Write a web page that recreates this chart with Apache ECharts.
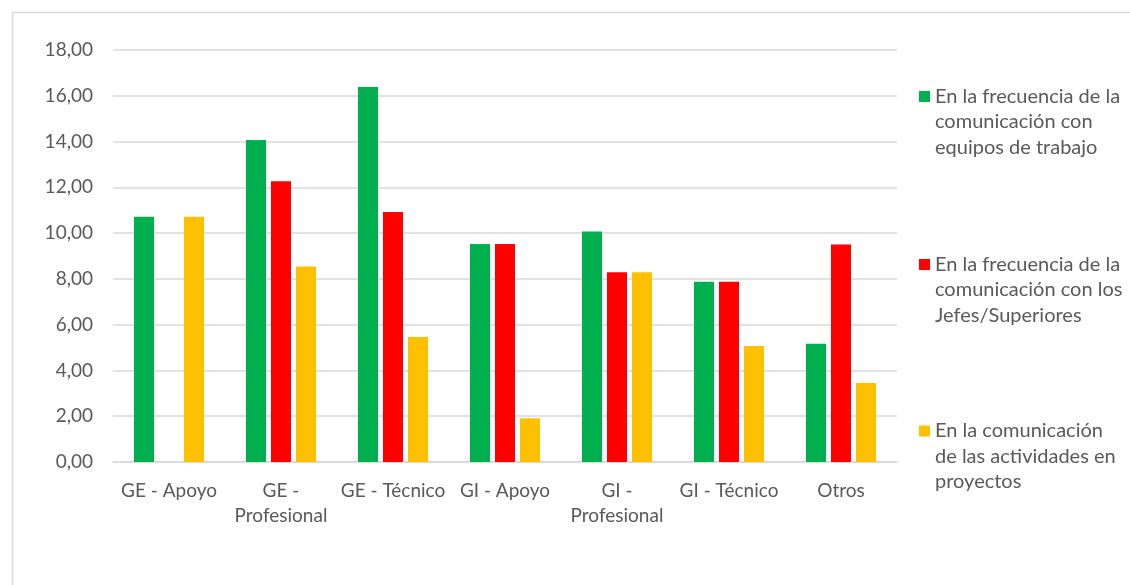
<!DOCTYPE html>
<html>
<head>
<meta charset="utf-8">
<script src="https://cdn.jsdelivr.net/npm/echarts@6/dist/echarts.min.js"></script>
<style>
html,body{margin:0;padding:0;background:#fff;}
#chart{width:1130px;height:585px;}
</style>
</head>
<body>
<div id="chart"></div>
<script>
const categories = ['GE - Apoyo', 'GE -\nProfesional', 'GE - Técnico', 'GI - Apoyo', 'GI -\nProfesional', 'GI - Técnico', 'Otros'];
const seriesNames = [
  'En la frecuencia de la\ncomunicación con\nequipos de trabajo',
  'En la frecuencia de la\ncomunicación con los\nJefes/Superiores',
  'En la comunicación\nde las actividades en\nproyectos'
];
const equiposTrabajo = [10.71, 14.07, 16.38, 9.52, 10.07, 7.87, 5.17];
const jefesSuperiores = [0, 12.27, 10.92, 9.52, 8.29, 7.87, 9.50];
const actividadesProyectos = [10.71, 8.54, 5.46, 1.91, 8.29, 5.07, 3.45];
const yTicks = { min: 0, max: 18, interval: 2 };
const colors = ['#00B050', '#FF0000', '#FFC000'];

const FONT = 'Lato';
const TXT = '#595959';
const LH = 25.5;

const chart = echarts.init(document.getElementById('chart'), null, { renderer: 'canvas' });

// square icon sitting at the top of a taller box, so it lines up with the first text line
const ICON_H = 62;
const legendTops = [83.75, 251.75, 418.25];
const legends = seriesNames.map((n, i) => ({
  orient: 'vertical',
  left: 919,
  top: legendTops[i],
  padding: 0,
  itemWidth: 11,
  itemHeight: ICON_H,
  icon: 'path://M0,0h11v11h-11z M0,' + ICON_H + 'h0.01',
  data: [n],
  selectedMode: false,
  textStyle: { fontFamily: FONT, fontSize: 20, color: TXT, lineHeight: LH }
}));

const seriesData = [equiposTrabajo, jefesSuperiores, actividadesProyectos];

chart.setOption({
  animation: false,
  backgroundColor: '#fff',
  graphic: [{
    type: 'rect', left: 10, top: 10, silent: true,
    shape: { x: 0, y: 0, width: 1130, height: 600 },
    style: { fill: 'none', stroke: '#d9d9d9', lineWidth: 1.5 }
  }],
  legend: legends,
  grid: { left: 113, right: 233, top: 50, bottom: 123, containLabel: false },
  xAxis: {
    type: 'category',
    data: categories,
    axisLine: { show: true, lineStyle: { color: '#d9d9d9', width: 1.5 } },
    axisTick: { show: false },
    axisLabel: { fontFamily: FONT, fontSize: 19, color: TXT, lineHeight: LH, margin: 16, interval: 0 }
  },
  yAxis: {
    type: 'value',
    min: yTicks.min, max: yTicks.max, interval: yTicks.interval,
    axisLine: { show: false },
    axisTick: { show: false },
    splitLine: { lineStyle: { color: '#d9d9d9', width: 1.5 } },
    axisLabel: {
      fontFamily: FONT, fontSize: 19, color: TXT, margin: 20,
      formatter: v => v.toFixed(2).replace('.', ',')
    }
  },
  series: seriesNames.map((n, i) => ({
    name: n,
    type: 'bar',
    data: seriesData[i],
    barWidth: 20,
    barGap: '25%',
    itemStyle: { color: colors[i] }
  }))
});
</script>
</body>
</html>
